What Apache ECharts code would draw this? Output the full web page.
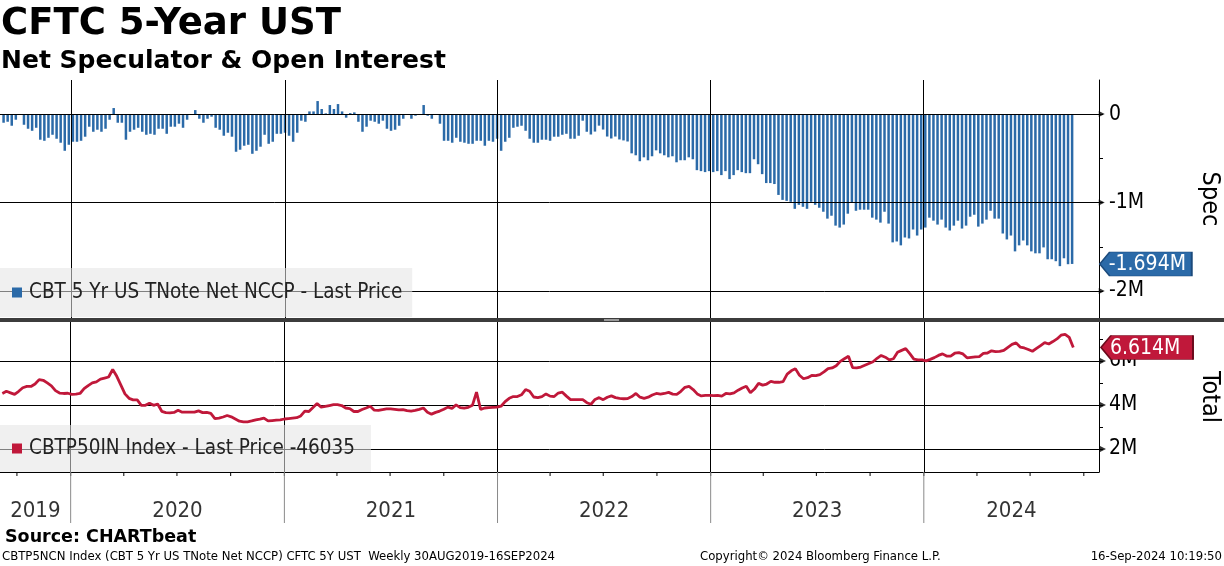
<!DOCTYPE html>
<html><head><meta charset="utf-8">
<script src="https://cdn.jsdelivr.net/npm/echarts@6/dist/echarts.min.js"></script>
<style>html,body{margin:0;padding:0;background:#fff}#c{width:1224px;height:566px}</style>
</head><body><div id="c"></div>
<script>
// ---- data (weekly, starting first week below) ----
const firstWeek = [2019, 8, 6]; // 6 Sep 2019 (month 0-based)
// Net speculator position, thousands of contracts
const specK = [
-98,-87,-132,-64,-5,-121,-166,-189,-155,-290,
-302,-268,-234,-279,-324,-415,-347,-313,-313,-302,
-256,-143,-200,-177,-200,-166,-64,68,-98,-98,
-290,-200,-177,-155,-200,-234,-223,-234,-166,-166,
-223,-143,-143,-109,-155,-64,-8,45,-53,-98,
-53,-30,-155,-177,-245,-211,-256,-426,-403,-358,
-347,-449,-415,-369,-234,-336,-313,-223,-223,-211,
-245,-313,-211,-75,
-87,30,30,147,57,8,102,57,113,30,
-41,11,19,-87,-200,-143,-75,-87,-109,-75,
-166,-189,-177,-132,-53,-4,-53,-19,-5,102,
-19,-53,-4,-109,-302,-302,-324,-268,-313,-324,
-336,-336,-302,-302,-358,-302,-313,-279,-415,-313,
-268,-155,-143,-132,-189,-279,-324,-324,-290,-290,
-302,-256,-256,-234,-223,-279,-279,-245,-75,-200,
-231,-198,-131,-175,-254,-276,-254,-287,-298,-310,
-444,-466,-533,-489,-522,-477,-410,-444,-466,-489,
-477,-545,-522,-522,-489,-511,-634,-645,-656,-645,
-656,-645,-690,-645,-735,-690,-634,-656,-668,-668,
-511,-567,-679,-780,-780,-791,-914,-970,-981,-992,
-1071,-1026,-1048,-1071,-992,-1026,-1059,-1104,-1182,-1149,
-1261,-1283,-1249,-1126,-1000,-1093,
-1081,-1081,-1081,-1171,-1193,-1227,-1104,-1238,-1450,-1440,
-1484,-1395,-1406,-1305,-1373,-1305,-1283,-1171,-1205,-1249,
-1193,-1283,-1316,-1261,-1205,-1294,-1261,-1160,-1138,-1272,
-1238,-1193,-1093,-1182,-1182,-1350,-1417,-1373,-1552,-1484,
-1429,-1484,-1552,-1574,-1574,-1507,-1641,-1641,-1663,-1719,
-1630,-1697,-1694
];
// Total open interest, millions of contracts
const totalM = [
4.52,4.62,4.55,4.48,4.62,4.78,4.84,4.84,4.95,5.15,
5.12,5.00,4.87,4.65,4.54,4.52,4.53,4.48,4.49,4.52,
4.74,4.88,5.00,5.05,5.17,5.22,5.27,5.61,5.30,4.90,
4.50,4.30,4.23,4.23,3.98,3.98,4.08,3.98,4.04,3.71,
3.65,3.64,3.66,3.76,3.67,3.67,3.67,3.67,3.73,3.65,
3.66,3.62,3.38,3.40,3.45,3.52,3.46,3.36,3.26,3.23,
3.23,3.27,3.32,3.35,3.40,3.27,3.29,3.31,3.32,3.36,
3.38,3.40,3.42,3.50,3.72,3.70,3.88,4.06,3.90,3.93,
3.97,4.01,4.01,3.97,3.86,3.83,3.70,3.70,3.79,3.86,
3.94,3.76,3.75,3.79,3.82,3.82,3.80,3.77,3.79,3.74,
3.72,3.75,3.80,3.86,3.67,3.58,3.66,3.72,3.80,3.90,
3.84,4.00,3.88,3.85,3.89,3.98,4.58,3.80,3.86,3.88,
3.89,3.90,3.94,4.15,4.30,4.38,4.38,4.46,4.70,4.62,
4.36,4.33,4.38,4.50,4.40,4.38,4.54,4.58,4.40,4.24,
4.24,4.24,4.24,4.10,4.03,4.25,4.33,4.24,4.35,4.41,
4.33,4.30,4.28,4.29,4.38,4.52,4.35,4.30,4.35,4.45,
4.52,4.49,4.52,4.57,4.49,4.48,4.62,4.80,4.84,4.70,
4.50,4.41,4.43,4.43,4.42,4.43,4.40,4.52,4.50,4.55,
4.67,4.77,4.85,4.55,4.72,4.98,4.90,4.95,5.07,5.03,
5.03,5.06,5.40,5.55,5.65,5.35,5.19,5.24,5.34,5.33,
5.38,5.50,5.65,5.68,5.78,5.98,6.10,6.21,5.70,5.68,
5.72,5.80,5.88,5.96,6.12,6.25,6.17,6.05,6.10,6.39,
6.48,6.56,6.33,6.08,6.05,6.05,6.00,6.07,6.15,6.25,
6.32,6.22,6.22,6.35,6.38,6.32,6.14,6.16,6.18,6.20,
6.34,6.36,6.46,6.42,6.43,6.48,6.62,6.75,6.82,6.63,
6.59,6.52,6.44,6.57,6.70,6.83,6.77,6.88,7.00,7.17,
7.21,7.07,6.614
];
const specName = 'CBT 5 Yr US TNote Net NCCP - Last Price';
const totalName = 'CBTP50IN Index - Last Price -46035';
const specMajorTicks = [0, -1000, -2000];
const specMinorTicks = [-500, -1500];
const totalMajorTicks = [2, 4, 6];
const totalMinorTicks = [3, 5, 7];
const yearStarts = ['2020-01-01','2021-01-01','2022-01-01','2023-01-01','2024-01-01'];
const yearLabels = ['2019','2020','2021','2022','2023','2024'];
const quarterTicks = ['2019-10-01','2020-01-01','2020-04-01','2020-07-01','2020-10-01','2021-01-01','2021-04-01','2021-07-01','2021-10-01','2022-01-01','2022-04-01','2022-07-01','2022-10-01','2023-01-01','2023-04-01','2023-07-01','2023-10-01','2024-01-01','2024-04-01','2024-07-01','2024-10-01'];
const xMinStr = '2019-09-02', xMaxStr = '2024-10-27';
const specLastLabel = '-1.694M';
const totalLastLabel = '6.614M';

// ---- build ----
const ts = s => { const p = s.split('-').map(Number); return new Date(p[0], p[1]-1, p[2]).getTime(); };
const dates = specK.map((_, i) => new Date(firstWeek[0], firstWeek[1], firstWeek[2] + 7*i).getTime());
const xMin = ts(xMinStr), xMax = ts(xMaxStr);
const bounds = [xMin, ...yearStarts.map(ts), xMax];
const yearMid = yearLabels.map((y, i) => [(bounds[i] + bounds[i+1]) / 2, 0.22, y]);

const FONT = "'DejaVu Sans Condensed','DejaVu Sans',sans-serif";
const BLUE = '#2b6aa8', RED = '#c0183a';
const GRID_R = 125;

const chart = echarts.init(document.getElementById('c'), null, {renderer: 'canvas'});
const hiddenX = (gi) => ({type:'time', gridIndex:gi, min:xMin, max:xMax, axisLine:{show:false}, axisTick:{show:false}, axisLabel:{show:false}, splitLine:{show:false}});
const tagPath = 'path://M0,12L10,0L92,0L92,24L10,24Z';

chart.setOption({
  animation: false,
  backgroundColor: '#fff',
  grid: [
    {left:0, right:GRID_R, top:80, height:238, outerBoundsMode:'none', containLabel:false},
    {left:0, right:GRID_R, top:322, height:150, outerBoundsMode:'none', containLabel:false},
    {left:0, right:GRID_R, top:472, height:51, outerBoundsMode:'none', containLabel:false}
  ],
  xAxis: [
    hiddenX(0),
    Object.assign(hiddenX(1), {axisLine:{show:true, onZero:false, lineStyle:{color:'#000', width:1}}}),
    hiddenX(2)
  ],
  yAxis: [
    {gridIndex:0, type:'value', position:'right', min:-2305, max:385, splitLine:{show:false},
     axisLine:{show:true, lineStyle:{color:'#000', width:1}},
     axisTick:{show:true, customValues:[...specMajorTicks, ...specMinorTicks], length:4, lineStyle:{color:'#000'}},
     axisLabel:{customValues:specMajorTicks, formatter:v => v === 0 ? '0' : (v/1000) + 'M', color:'#000', fontSize:21, fontFamily:FONT, margin:10},
     name:'Spec', nameLocation:'middle', nameRotate:-90, nameGap:98, nameTextStyle:{fontSize:25, color:'#000', fontFamily:FONT}},
    {gridIndex:1, type:'value', position:'right', min:0.95, max:7.77, splitLine:{show:false},
     axisLine:{show:true, lineStyle:{color:'#000', width:1}},
     axisTick:{show:true, customValues:[...totalMajorTicks, ...totalMinorTicks], length:4, lineStyle:{color:'#000'}},
     axisLabel:{customValues:totalMajorTicks, formatter:v => v + 'M', color:'#000', fontSize:21, fontFamily:FONT, margin:10},
     name:'Total', nameLocation:'middle', nameRotate:-90, nameGap:98, nameTextStyle:{fontSize:25, color:'#000', fontFamily:FONT}},
    {gridIndex:2, type:'value', min:0, max:1, show:false}
  ],
  legend: [
    {data:[specName], left:0, top:268, icon:'rect', itemWidth:10, itemHeight:10, padding:[14,10,14,12],
     backgroundColor:'rgba(228,228,228,0.56)', selectedMode:false,
     textStyle:{fontSize:20.5, fontFamily:FONT, color:'#222', lineHeight:20, padding:[0,0,0,2]}},
    {data:[totalName], left:0, top:425, icon:'rect', itemWidth:10, itemHeight:10, padding:[13,16,13,12],
     backgroundColor:'rgba(228,228,228,0.56)', selectedMode:false,
     textStyle:{fontSize:20.5, fontFamily:FONT, color:'#222', lineHeight:20, padding:[0,0,0,2]}}
  ],
  series: [
    {name:specName, type:'bar', xAxisIndex:0, yAxisIndex:0, barWidth:2.5, z:2,
     itemStyle:{color:BLUE},
     data: dates.map((d, i) => [d, specK[i]]),
     markLine:{silent:true, z:3, symbol:['none','none'], label:{show:false}, lineStyle:{color:'#000', width:1, type:'solid'},
       data:[...yearStarts.map(y => ({xAxis: ts(y)})), ...specMajorTicks.map(v => ({yAxis: v}))]},
     markPoint:{silent:true, symbol:tagPath, symbolSize:[92,24], symbolOffset:[48,0], symbolKeepAspect:false,
       itemStyle:{color:BLUE, borderColor:'#1b4a7c', borderWidth:1},
       label:{show:true, position:'insideLeft', distance:5, offset:[5,1], color:'#fff', fontSize:21, fontFamily:FONT, formatter: specLastLabel},
       data:[{coord:[xMax, specK[specK.length-1]]}]}
    },
    {name:totalName, type:'line', xAxisIndex:1, yAxisIndex:1, z:3, showSymbol:false, symbol:'none',
     lineStyle:{color:RED, width:2.8}, itemStyle:{color:RED},
     data: dates.map((d, i) => [d, totalM[i]]),
     markLine:{silent:true, z:1, symbol:['none','none'], label:{show:false}, lineStyle:{color:'#000', width:1, type:'solid'},
       data:[...yearStarts.map(y => ({xAxis: ts(y)})), ...totalMajorTicks.map(v => ({yAxis: v}))]},
     markPoint:{silent:true, z:6, symbol:tagPath, symbolSize:[92,24], symbolOffset:[48,0], symbolKeepAspect:false,
       itemStyle:{color:RED, borderColor:'#6b0a1c', borderWidth:1},
       label:{show:true, position:'insideLeft', distance:5, offset:[5,1], color:'#fff', fontSize:21, fontFamily:FONT, formatter: totalLastLabel},
       data:[{coord:[xMax, totalM[totalM.length-1]]}]}
    },
    // tick arrows on right axes
    {type:'scatter', xAxisIndex:0, yAxisIndex:0, silent:true, clip:false, z:6, symbol:'triangle', symbolRotate:-90, symbolSize:[6,6], symbolOffset:[4,0],
     itemStyle:{color:'#000'}, data: specMajorTicks.map(v => [xMax, v])},
    {type:'scatter', xAxisIndex:1, yAxisIndex:1, silent:true, clip:false, z:6, symbol:'triangle', symbolRotate:-90, symbolSize:[6,6], symbolOffset:[4,0],
     itemStyle:{color:'#000'}, data: totalMajorTicks.map(v => [xMax, v])},
    // year separators + quarter ticks + year labels below bottom panel
    {type:'custom', xAxisIndex:2, yAxisIndex:2, silent:true, clip:false,
     data: quarterTicks.map(q => [ts(q)]),
     renderItem:(params, api) => {
       const p = api.coord([api.value(0), 1]);
       return {type:'line', shape:{x1:p[0], y1:p[1], x2:p[0], y2:p[1]+4}, style:{stroke:'#000', lineWidth:1}};
     }},
    {type:'custom', xAxisIndex:2, yAxisIndex:2, silent:true, clip:false,
     data: yearStarts.map(y => [ts(y)]),
     renderItem:(params, api) => {
       const p = api.coord([api.value(0), 1]);
       const q = api.coord([api.value(0), 0]);
       return {type:'line', shape:{x1:p[0], y1:p[1], x2:q[0], y2:q[1]}, style:{stroke:'#8a8a8a', lineWidth:1}};
     }},
    {type:'scatter', xAxisIndex:2, yAxisIndex:2, silent:true, symbolSize:0,
     data: yearMid.map(m => ({value:[m[0], m[1]], name:m[2]})),
     label:{show:true, position:'inside', formatter:p => p.name, color:'#000', fontSize:22, fontFamily:FONT}}
  ],
  graphic: [
    {type:'rect', shape:{x:0, y:318, width:1224, height:4}, style:{fill:'#3c3c3c'}, z:10, silent:true},
    {type:'rect', shape:{x:604, y:319, width:15, height:2}, style:{fill:'#9a9a9a'}, z:11, silent:true},
    {type:'text', x:1, y:24, style:{text:'CFTC 5-Year UST', font:"bold 37px 'DejaVu Sans'", fill:'#000', verticalAlign:'middle'}},
    {type:'text', x:1, y:61, style:{text:'Net Speculator & Open Interest', font:"bold 25px 'DejaVu Sans'", fill:'#000', verticalAlign:'middle'}},
    {type:'text', x:5, y:537, style:{text:'Source: CHARTbeat', font:"bold 17.5px 'DejaVu Sans'", fill:'#000', verticalAlign:'middle'}},
    {type:'text', x:2, y:557, style:{text:'CBTP5NCN Index (CBT 5 Yr US TNote Net NCCP) CFTC 5Y UST  Weekly 30AUG2019-16SEP2024', font:"13px " + FONT, fill:'#000', verticalAlign:'middle'}},
    {type:'text', x:700, y:557, style:{text:'Copyright\u00a9 2024 Bloomberg Finance L.P.', font:"13px " + FONT, fill:'#000', verticalAlign:'middle'}},
    {type:'text', x:1222, y:557, style:{text:'16-Sep-2024 10:19:50', font:"13px " + FONT, fill:'#000', verticalAlign:'middle', align:'right'}}
  ]
});
</script>
</body></html>
